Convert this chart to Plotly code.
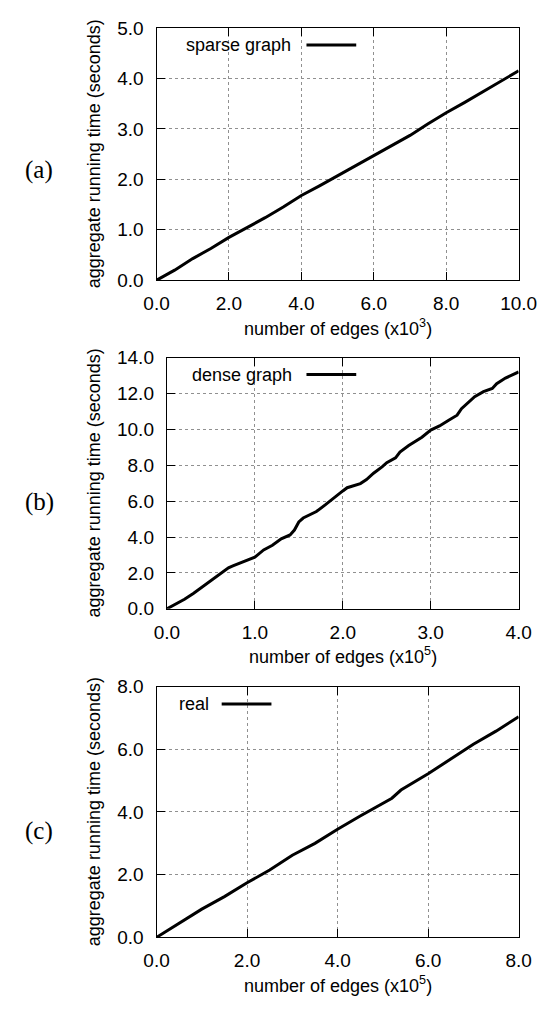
import plotly.graph_objects as go

W, H = 556, 1011

# ---- data ----
sparse_x = [0, 0.5, 1, 1.5, 2, 2.5, 3, 3.5, 4, 4.5, 5, 5.5, 6, 6.5, 7, 7.5, 8, 8.5, 9, 9.5, 10]
sparse_y = [0, 0.2, 0.43, 0.63, 0.85, 1.04, 1.24, 1.45, 1.68, 1.87, 2.07, 2.27, 2.48, 2.67, 2.87, 3.1, 3.32, 3.52, 3.73, 3.94, 4.15]

dense_x = [0, 0.1, 0.2, 0.3, 0.4, 0.5, 0.6, 0.7, 0.75, 0.9, 1.0, 1.1, 1.2, 1.3, 1.4, 1.45, 1.5,
           1.55, 1.6, 1.7, 1.8, 1.9, 2.0, 2.05, 2.1, 2.2, 2.27, 2.35, 2.45, 2.5, 2.6, 2.65, 2.75,
           2.9, 3.0, 3.1, 3.2, 3.3, 3.35, 3.4, 3.5, 3.6, 3.7, 3.75, 3.85, 4.0]
dense_y = [0, 0.25, 0.53, 0.85, 1.2, 1.58, 1.94, 2.28, 2.39, 2.67, 2.88, 3.28, 3.54, 3.9, 4.12, 4.39, 4.84,
           5.06, 5.17, 5.42, 5.79, 6.2, 6.57, 6.75, 6.84, 6.98, 7.2, 7.56, 7.92, 8.14, 8.41, 8.74, 9.1,
           9.56, 9.96, 10.19, 10.5, 10.79, 11.15, 11.37, 11.82, 12.1, 12.28, 12.55, 12.86, 13.2]

real_x = [0, 0.5, 1.0, 1.5, 2.0, 2.5, 3.0, 3.5, 4.0, 4.5, 5.0, 5.2, 5.4, 6.0, 6.5, 7.0, 7.5, 8.0]
real_y = [0, 0.45, 0.9, 1.3, 1.74, 2.15, 2.62, 3.0, 3.45, 3.87, 4.29, 4.44, 4.7, 5.22, 5.69, 6.16, 6.58, 7.04]

panel_labels = ["(a)", "(b)", "(c)"]
legend_names = ["sparse graph", "dense graph", "real"]
x_titles = ["number of edges (x10<sup>3</sup>)", "number of edges (x10<sup>5</sup>)",
            "number of edges (x10<sup>5</sup>)"]
y_title = "aggregate running time (seconds)"
x_ranges = [[0, 10], [0, 4], [0, 8]]
x_dticks = [2, 1, 2]
y_ranges = [[0, 5], [0, 14], [0, 8]]
y_dticks = [1, 2, 2]

# ---- layout geometry (pixels) ----
FONT = "Liberation Sans, Arial, Helvetica, sans-serif"
panels = [
    dict(l=152.0, r=535.5, t=18.3, b=276.0, leg_text_r=297, leg_line=(310.8, 363.5), leg_y=35.7, leg_box_l=183, lab_y=163.5),
    dict(l=163.0, r=535.5, t=355.0, b=611.5, leg_text_r=298, leg_line=(310.8, 363.5), leg_y=372.3, leg_box_l=188, lab_y=502.5),
    dict(l=152.0, r=535.5, t=691.0, b=947.0, leg_text_r=209.5, leg_line=(221.0, 273.7), leg_y=708.7, leg_box_l=170, lab_y=838.0),
]

def px(x):
    return x / W

def py(y):
    return 1 - y / H

fig = go.Figure()
series = [(sparse_x, sparse_y), (dense_x, dense_y), (real_x, real_y)]

annotations = []
shapes = []
for i, (p, (xs, ys)) in enumerate(zip(panels, series)):
    sfx = "" if i == 0 else str(i + 1)
    fig.add_trace(go.Scatter(x=xs, y=ys, mode="lines", name=legend_names[i],
                             line=dict(color="black", width=3),
                             xaxis="x" + sfx, yaxis="y" + sfx, showlegend=False))
    common = dict(showline=True, linecolor="black", linewidth=1.3, mirror="ticks",
                  ticks="inside", ticklen=8, tickwidth=1.2, tickcolor="black",
                  showgrid=True, gridcolor="#909090", griddash="dot", gridwidth=1,
                  zeroline=False, tickformat=".1f",
                  tickfont=dict(family=FONT, size=19, color="black"))
    fig.update_layout(**{
        "xaxis" + sfx: dict(domain=[px(p["l"]), px(p["r"])], range=x_ranges[i], dtick=x_dticks[i],
                            tick0=0, anchor="y" + sfx, ticklabelstandoff=6, **common),
        "yaxis" + sfx: dict(domain=[py(p["b"]), py(p["t"])], range=y_ranges[i], dtick=y_dticks[i],
                            tick0=0, anchor="x" + sfx, ticklabelstandoff=8, **common),
    })
    # axis titles
    annotations.append(dict(xref="paper", yref="paper", x=px(86), y=py((p["t"] + p["b"]) / 2),
                            text=y_title, textangle=-90, showarrow=False,
                            xanchor="center", yanchor="middle",
                            font=dict(family=FONT, size=18, color="black")))
    annotations.append(dict(xref="paper", yref="paper", x=px((p["l"] + p["r"]) / 2), y=py(p["b"] + 48),
                            text=x_titles[i], showarrow=False,
                            xanchor="center", yanchor="middle",
                            font=dict(family=FONT, size=18, color="black")))
    # panel label
    annotations.append(dict(xref="paper", yref="paper", x=px(28), y=py(p["lab_y"]),
                            text=panel_labels[i], showarrow=False,
                            xanchor="center", yanchor="middle",
                            font=dict(family="Liberation Serif, Times New Roman, serif", size=25, color="black")))
    # legend (gnuplot style: text then line sample)
    shapes.append(dict(type="rect", xref="paper", yref="paper", layer="between",
                       x0=px(p["leg_box_l"]), x1=px(p["leg_line"][1] + 6),
                       y0=py(p["leg_y"] + 10), y1=py(p["t"]),
                       fillcolor="white", line=dict(width=0)))
    annotations.append(dict(xref="paper", yref="paper", x=px(p["leg_text_r"]), y=py(p["leg_y"]),
                            text=legend_names[i], showarrow=False,
                            xanchor="right", yanchor="middle",
                            font=dict(family=FONT, size=18, color="black")))
    shapes.append(dict(type="line", xref="paper", yref="paper",
                       x0=px(p["leg_line"][0]), x1=px(p["leg_line"][1]),
                       y0=py(p["leg_y"]), y1=py(p["leg_y"]),
                       line=dict(color="black", width=3)))

fig.update_layout(width=W, height=H, margin=dict(l=0, r=0, t=0, b=0),
                  paper_bgcolor="white", plot_bgcolor="white",
                  annotations=annotations, shapes=shapes, showlegend=False,
                  font=dict(family=FONT, color="black"))

fig.write_html("out.html")
